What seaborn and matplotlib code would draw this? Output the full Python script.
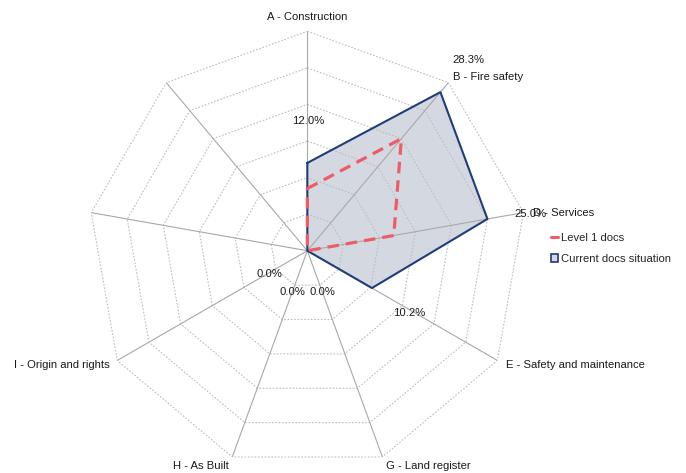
import numpy as np
import pandas as pd
import matplotlib
matplotlib.use("Agg")
import matplotlib.pyplot as plt
import seaborn as sns
from matplotlib.lines import Line2D
from matplotlib.patches import Patch

# ---------------- data ----------------
categories = ["A - Construction", "B - Fire safety", "D - Services",
              "E - Safety and maintenance", "G - Land register", "H - As Built",
              "I - Origin and rights", "", ""]
level1_docs = [8.5, 20.0, 12.0, 0.0, 0.0, 0.0, 0.0, 0.0, 0.0]
current_docs = [12.0, 28.3, 25.0, 10.2, 0.0, 0.0, 0.0, np.nan, np.nan]
ring_values = [5, 10, 15, 20, 25, 30]
series_names = ["Level 1 docs", "Current docs situation"]

# ---------------- styling ----------------
RED = "#ee5c66"
NAVY = "#1f3d7a"
FILL = "#d4d9e1"
GRID = "#bdbdbd"
SPOKE = "#a8a8a8"
TXT = "#1a1a1a"
FS = 8.1

# label offsets in pixels (styling only)
cat_offsets = [(0, 14.5, "center"), (5, 5.5, "left"), (10, 0, "left"),
               (8.5, -5, "left"), (4, -9, "left"), (-3, -9, "right"),
               (-7.5, -5, "right"), (0, 0, "center"), (0, 0, "center")]
val_offsets = [(1, 42), (28, 32.5), (43, 5), (37, -24.5), (15.5, -41.5),
               (-15, -41.5), (-37.5, -23), (0, 0), (0, 0)]

sns.set_style("white")
plt.rcParams["font.family"] = ["Liberation Sans", "DejaVu Sans"]

fig = plt.figure(figsize=(6.86, 4.73), dpi=100)
ax = fig.add_axes([0.128, 0.0059, 0.640, 0.928], projection="polar")
ax.set_theta_offset(np.pi / 2)
ax.set_theta_direction(-1)
ax.set_ylim(0, ring_values[-1])
ax.grid(False)
ax.spines["polar"].set_visible(False)
ax.patch.set_alpha(0)

n = len(categories)
theta = np.arange(n) * 2 * np.pi / n
theta_closed = np.append(theta, theta[0])

df = pd.DataFrame({
    "theta": theta_closed,
    "level1": np.append(level1_docs, level1_docs[0]),
    "current": np.nan_to_num(np.append(current_docs, current_docs[0])),
})

# filled area for current situation
ax.fill(df["theta"], df["current"], color=FILL, zorder=1, lw=0)

# grid polygons and spokes
for rv in ring_values:
    ax.plot(theta_closed, [rv] * len(theta_closed), color=GRID, lw=0.8,
            ls=(0, (1.5, 1.5)), zorder=2)
for t in theta:
    ax.plot([t, t], [0, ring_values[-1]], color=SPOKE, lw=0.8, zorder=2)

# series
sns.lineplot(data=df, x="theta", y="current", sort=False, ax=ax, color=NAVY,
             lw=1.5, zorder=4, estimator=None)
sns.lineplot(data=df, x="theta", y="level1", sort=False, ax=ax, color=RED,
             lw=2.3, zorder=5, estimator=None)
ax.lines[-1].set_dashes((3.6, 2.2))
ax.set_xlabel("")
ax.set_ylabel("")
ax.set_xticks([])
ax.set_yticks([])

# category labels
for t, name, (dx, dy, ha) in zip(theta, categories, cat_offsets):
    if name:
        ax.annotate(name, xy=(t, ring_values[-1]), xytext=(dx, dy),
                    textcoords="offset pixels", ha=ha, va="center",
                    fontsize=FS, color=TXT, annotation_clip=False)

# data labels
for t, v, (dx, dy) in zip(theta, current_docs, val_offsets):
    if not np.isnan(v):
        ax.annotate(f"{v:.1f}%", xy=(t, v), xytext=(dx, dy),
                    textcoords="offset pixels", ha="center", va="center",
                    fontsize=FS, color=TXT, annotation_clip=False, zorder=6)

# legend
handles = [Line2D([0], [0], color=RED, lw=2.2),
           Patch(facecolor=FILL, edgecolor=NAVY, lw=1.2)]
ax.legend(handles, series_names, loc="upper left",
          bbox_to_anchor=(551 / 686, 1 - 233 / 473),
          bbox_transform=fig.transFigure, frameon=False, fontsize=FS,
          handlelength=0.6, handleheight=0.6, handletextpad=0.3,
          labelspacing=0.98, borderpad=0, borderaxespad=0)

fig.savefig("out.png", dpi=100)
